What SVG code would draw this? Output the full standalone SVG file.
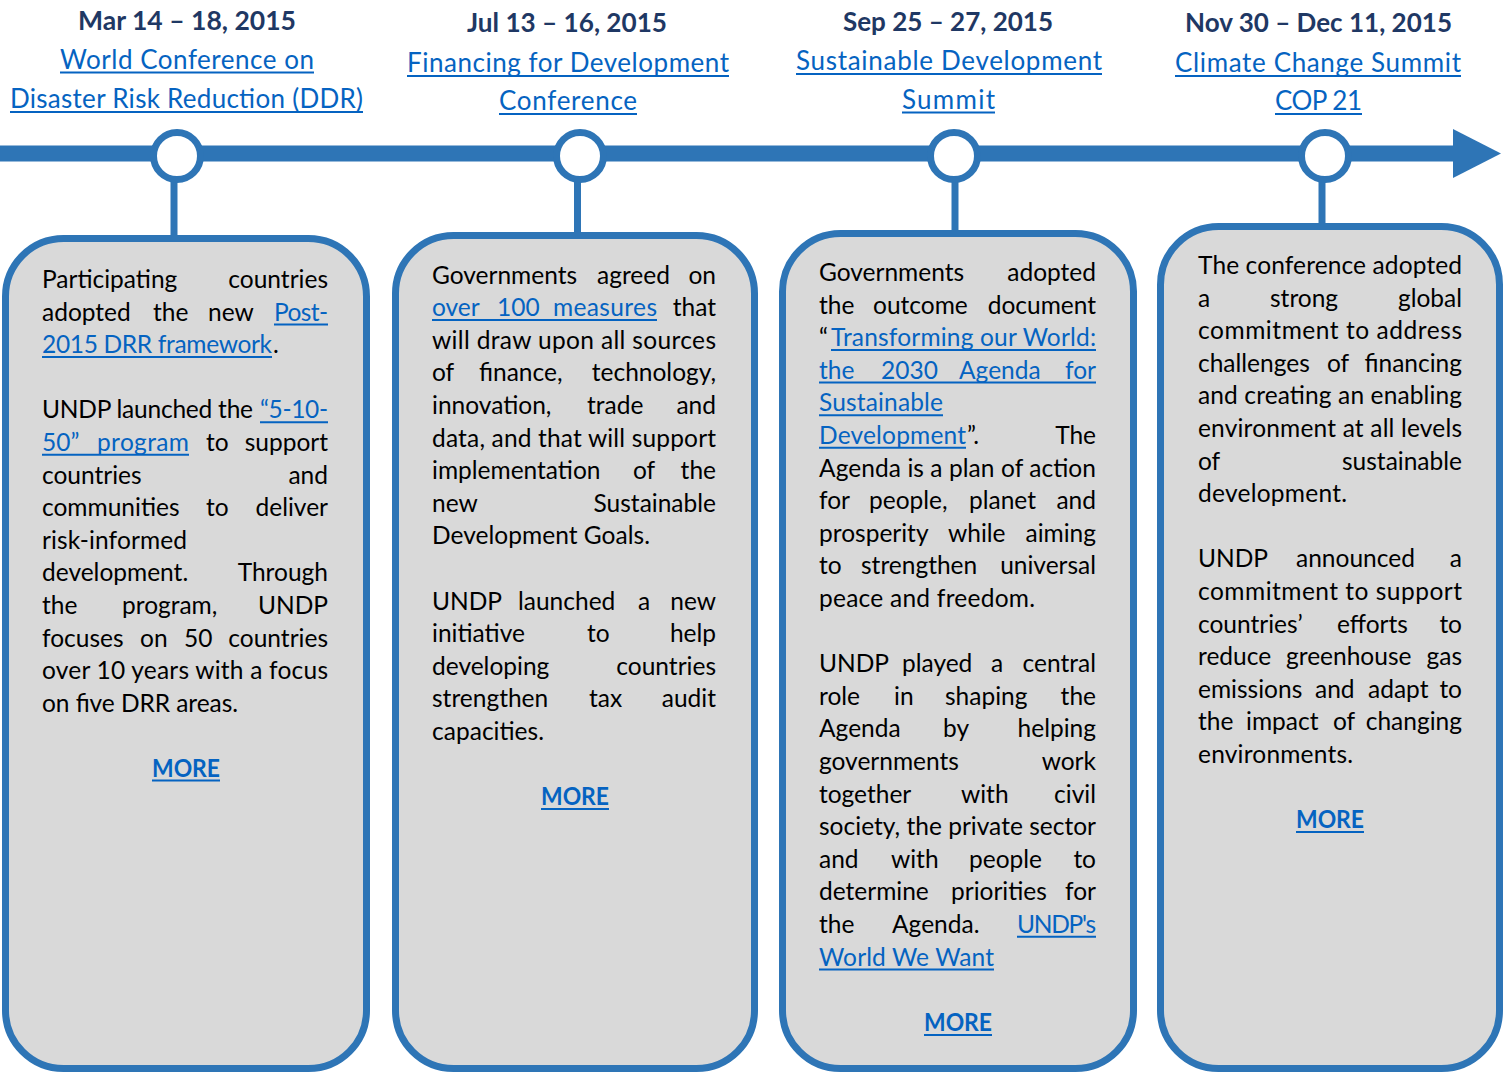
<svg xmlns="http://www.w3.org/2000/svg" width="1509" height="1072" viewBox="0 0 1509 1072">
<style>
text{font-family:Lato,"Open Sans","Noto Sans",sans-serif;font-size:24.5px;fill:#000}
.d{font-weight:700;fill:#1F3864;font-size:26px}
.t{fill:#0563C1;font-size:26px}
.k{fill:#0563C1}
.m{font-weight:700;fill:#0563C1}
.e{text-anchor:end}
.u{stroke:#0563C1;stroke-width:2}
.box{fill:#D9D9D9;stroke:#2E75B6;stroke-width:7}
.dot{fill:#fff;stroke:#2E75B6;stroke-width:7}
.stem{stroke:#2E75B6;stroke-width:7}
.line{fill:#2E75B6}
</style>
<rect width="1509" height="1072" fill="#fff"/>
<g id="connectors">
<rect class="line" x="0" y="145.5" width="1455" height="16"/>
<polygon class="line" points="1453,129 1501,153.5 1453,178"/>
<line class="stem" x1="174" y1="180" x2="174" y2="238"/>
<line class="stem" x1="577.5" y1="180" x2="577.5" y2="235"/>
<line class="stem" x1="955" y1="180" x2="955" y2="233"/>
<line class="stem" x1="1322" y1="180" x2="1322" y2="226"/>
</g>

<g id="event-ddr">
<circle class="dot" cx="177" cy="156" r="23.5"/>
<text class="d" x="78" y="30" textLength="218" lengthAdjust="spacingAndGlyphs">Mar 14 – 18, 2015</text>
<text class="t" x="60" y="68.5" textLength="254">World Conference on</text>
<text class="t" x="10" y="108" textLength="353">Disaster Risk Reduction (DDR)</text>
<line class="u" x1="60" y1="72.5" x2="314" y2="72.5"/>
<line class="u" x1="10" y1="112" x2="363" y2="112"/>
<rect class="box" x="5.5" y="238.5" width="361" height="830" rx="58"/>
<text x="42" y="288">Participating</text><text class="e" x="328" y="288">countries</text>
<text x="42" y="320.6">adopted</text><text x="153" y="320.6">the</text><text x="208" y="320.6">new</text><text class="k" x="274" y="320.6" textLength="54">Post-</text>
<text x="42" y="353.2"><tspan class="k" textLength="230">2015 DRR framework</tspan></text><text x="273" y="353.2">.</text>
<text x="42" y="418.4" textLength="211">UNDP launched the</text><text class="k" x="260" y="418.4" textLength="68">“5-10-</text>
<text class="k" x="42" y="451">50”</text><text class="k" x="97" y="451" textLength="92">program</text><text x="206" y="451">to</text><text class="e" x="328" y="451">support</text>
<text x="42" y="483.6">countries</text><text class="e" x="328" y="483.6">and</text>
<text x="42" y="516.2">communities</text><text x="206" y="516.2">to</text><text class="e" x="328" y="516.2">deliver</text>
<text x="42" y="548.8" textLength="145">risk-informed</text>
<text x="42" y="581.4">development.</text><text class="e" x="328" y="581.4">Through</text>
<text x="42" y="614">the</text><text x="122" y="614">program,</text><text class="e" x="328" y="614">UNDP</text>
<text x="42" y="646.6">focuses</text><text x="140" y="646.6">on</text><text x="184" y="646.6">50</text><text class="e" x="328" y="646.6">countries</text>
<text x="42" y="679.2" textLength="286">over 10 years with a focus</text>
<text x="42" y="711.8" textLength="196">on five DRR areas.</text>
<text class="m" x="152" y="776.5" textLength="68" lengthAdjust="spacingAndGlyphs">MORE</text>
<line class="u" x1="274" y1="324.5" x2="328" y2="324.5"/>
<line class="u" x1="42" y1="357" x2="272" y2="357"/>
<line class="u" x1="260" y1="422.2" x2="328" y2="422.2"/>
<line class="u" x1="42" y1="454.8" x2="189" y2="454.8"/>
<line class="u" x1="152" y1="780.5" x2="220" y2="780.5"/>
</g>

<g id="event-ffd">
<circle class="dot" cx="580" cy="156" r="23.5"/>
<text class="d" x="467" y="32" textLength="200" lengthAdjust="spacingAndGlyphs">Jul 13 – 16, 2015</text>
<text class="t" x="407" y="72" textLength="322">Financing for Development</text>
<text class="t" x="499" y="110" textLength="138">Conference</text>
<line class="u" x1="407" y1="76" x2="729" y2="76"/>
<line class="u" x1="499" y1="114" x2="637" y2="114"/>
<rect class="box" x="395.5" y="235.5" width="359" height="833" rx="58"/>
<text x="432" y="283.5">Governments</text><text x="597" y="283.5">agreed</text><text class="e" x="716" y="283.5">on</text>
<text class="k" x="432" y="316.1">over</text><text class="k" x="497" y="316.1">100</text><text class="k" x="553" y="316.1" textLength="104">measures</text><text class="e" x="716" y="316.1">that</text>
<text x="432" y="348.7" textLength="284">will draw upon all sources</text>
<text x="432" y="381.3">of</text><text x="479" y="381.3">finance,</text><text class="e" x="716" y="381.3">technology,</text>
<text x="432" y="413.9">innovation,</text><text x="587" y="413.9">trade</text><text class="e" x="716" y="413.9">and</text>
<text x="432" y="446.5" textLength="284">data, and that will support</text>
<text x="432" y="479.1">implementation</text><text x="633" y="479.1">of</text><text class="e" x="716" y="479.1">the</text>
<text x="432" y="511.7">new</text><text class="e" x="716" y="511.7">Sustainable</text>
<text x="432" y="544.3" textLength="218">Development Goals.</text>
<text x="432" y="609.5">UNDP</text><text x="518" y="609.5">launched</text><text x="638" y="609.5">a</text><text class="e" x="716" y="609.5">new</text>
<text x="432" y="642.1">initiative</text><text x="587" y="642.1">to</text><text class="e" x="716" y="642.1">help</text>
<text x="432" y="674.7">developing</text><text class="e" x="716" y="674.7">countries</text>
<text x="432" y="707.3">strengthen</text><text x="589" y="707.3">tax</text><text class="e" x="716" y="707.3">audit</text>
<text x="432" y="739.9" textLength="112">capacities.</text>
<text class="m" x="541" y="805" textLength="68" lengthAdjust="spacingAndGlyphs">MORE</text>
<line class="u" x1="432" y1="320" x2="657" y2="320"/>
<line class="u" x1="541" y1="809" x2="609" y2="809"/>
</g>

<g id="event-sds">
<circle class="dot" cx="954" cy="156" r="23.5"/>
<text class="d" x="843" y="31" textLength="210" lengthAdjust="spacingAndGlyphs">Sep 25 – 27, 2015</text>
<text class="t" x="796" y="70" textLength="306">Sustainable Development</text>
<text class="t" x="902" y="108.5" textLength="93">Summit</text>
<line class="u" x1="796" y1="74" x2="1102" y2="74"/>
<line class="u" x1="902" y1="112.5" x2="995" y2="112.5"/>
<rect class="box" x="782.5" y="233.5" width="351" height="835" rx="58"/>
<text x="819" y="281">Governments</text><text class="e" x="1096" y="281">adopted</text>
<text x="819" y="313.6">the</text><text x="873" y="313.6">outcome</text><text class="e" x="1096" y="313.6">document</text>
<text x="819" y="346.2">“</text><text class="k" x="831" y="346.2" textLength="265">Transforming our World:</text>
<text class="k" x="819" y="378.8">the</text><text class="k" x="881" y="378.8">2030</text><text class="k" x="959" y="378.8">Agenda</text><text class="k e" x="1096" y="378.8">for</text>
<text class="k" x="819" y="411.4" textLength="124">Sustainable</text>
<text class="k" x="819" y="444" textLength="147">Development</text><text x="967" y="444">”.</text><text class="e" x="1096" y="444">The</text>
<text x="819" y="476.6" textLength="277">Agenda is a plan of action</text>
<text x="819" y="509.2">for</text><text x="869" y="509.2">people,</text><text x="969" y="509.2">planet</text><text class="e" x="1096" y="509.2">and</text>
<text x="819" y="541.8">prosperity</text><text x="948" y="541.8">while</text><text class="e" x="1096" y="541.8">aiming</text>
<text x="819" y="574.4">to</text><text x="861" y="574.4">strengthen</text><text class="e" x="1096" y="574.4">universal</text>
<text x="819" y="607" textLength="216">peace and freedom.</text>
<text x="819" y="672.2">UNDP</text><text x="902" y="672.2">played</text><text x="991" y="672.2">a</text><text class="e" x="1096" y="672.2">central</text>
<text x="819" y="704.8">role</text><text x="894" y="704.8">in</text><text x="945" y="704.8">shaping</text><text class="e" x="1096" y="704.8">the</text>
<text x="819" y="737.4">Agenda</text><text x="943" y="737.4">by</text><text class="e" x="1096" y="737.4">helping</text>
<text x="819" y="770">governments</text><text class="e" x="1096" y="770">work</text>
<text x="819" y="802.6">together</text><text x="961" y="802.6">with</text><text class="e" x="1096" y="802.6">civil</text>
<text x="819" y="835.2" textLength="277">society, the private sector</text>
<text x="819" y="867.8">and</text><text x="891" y="867.8">with</text><text x="969" y="867.8">people</text><text class="e" x="1096" y="867.8">to</text>
<text x="819" y="900.4">determine</text><text x="951" y="900.4">priorities</text><text class="e" x="1096" y="900.4">for</text>
<text x="819" y="933">the</text><text x="892" y="933">Agenda.</text><text class="k" x="1017" y="933" textLength="79">UNDP's</text>
<text class="k" x="819" y="965.6" textLength="175">World We Want</text>
<text class="m" x="924" y="1031" textLength="68" lengthAdjust="spacingAndGlyphs">MORE</text>
<line class="u" x1="831" y1="350" x2="1096" y2="350"/>
<line class="u" x1="819" y1="382.6" x2="1096" y2="382.6"/>
<line class="u" x1="819" y1="415.2" x2="943" y2="415.2"/>
<line class="u" x1="819" y1="447.8" x2="966" y2="447.8"/>
<line class="u" x1="1017" y1="936.8" x2="1096" y2="936.8"/>
<line class="u" x1="819" y1="969.4" x2="994" y2="969.4"/>
<line class="u" x1="924" y1="1035" x2="992" y2="1035"/>
</g>

<g id="event-cop21">
<circle class="dot" cx="1325" cy="156" r="23.5"/>
<text class="d" x="1185" y="32" textLength="267" lengthAdjust="spacingAndGlyphs">Nov 30 – Dec 11, 2015</text>
<text class="t" x="1175" y="72" textLength="286">Climate Change Summit</text>
<text class="t" x="1275" y="110" textLength="87">COP 21</text>
<line class="u" x1="1175" y1="76" x2="1461" y2="76"/>
<line class="u" x1="1275" y1="114" x2="1362" y2="114"/>
<rect class="box" x="1160.5" y="226.5" width="339" height="842" rx="58"/>
<text x="1198" y="274" textLength="264">The conference adopted</text>
<text x="1198" y="306.6">a</text><text x="1270" y="306.6">strong</text><text class="e" x="1462" y="306.6">global</text>
<text x="1198" y="339.2" textLength="264">commitment to address</text>
<text x="1198" y="371.8">challenges</text><text x="1327" y="371.8">of</text><text class="e" x="1462" y="371.8">financing</text>
<text x="1198" y="404.4" textLength="264">and creating an enabling</text>
<text x="1198" y="437" textLength="264">environment at all levels</text>
<text x="1198" y="469.6">of</text><text class="e" x="1462" y="469.6">sustainable</text>
<text x="1198" y="502.2" textLength="149">development.</text>
<text x="1198" y="567.4">UNDP</text><text x="1296" y="567.4">announced</text><text class="e" x="1462" y="567.4">a</text>
<text x="1198" y="600" textLength="264">commitment to support</text>
<text x="1198" y="632.6">countries’</text><text x="1337" y="632.6">efforts</text><text class="e" x="1462" y="632.6">to</text>
<text x="1198" y="665.2">reduce</text><text x="1286" y="665.2">greenhouse</text><text class="e" x="1462" y="665.2">gas</text>
<text x="1198" y="697.8">emissions</text><text x="1315" y="697.8">and</text><text x="1368" y="697.8">adapt</text><text class="e" x="1462" y="697.8">to</text>
<text x="1198" y="730.4">the</text><text x="1246" y="730.4">impact</text><text x="1333" y="730.4">of</text><text class="e" x="1462" y="730.4">changing</text>
<text x="1198" y="763" textLength="155">environments.</text>
<text class="m" x="1296" y="828" textLength="68" lengthAdjust="spacingAndGlyphs">MORE</text>
<line class="u" x1="1296" y1="832" x2="1364" y2="832"/>
</g>
</svg>
